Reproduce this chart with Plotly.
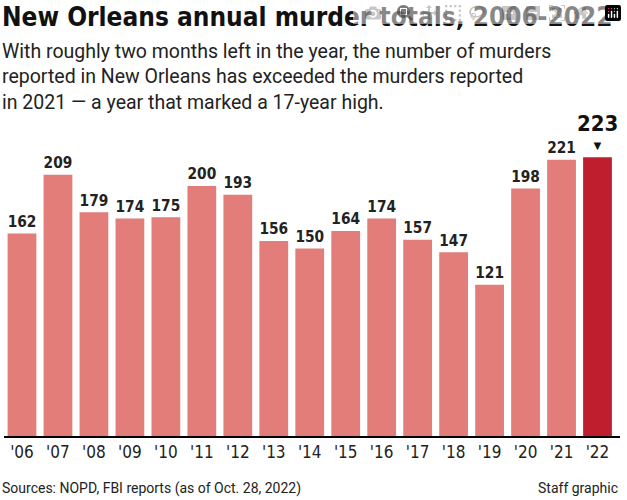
import plotly.graph_objects as go

# data
years = ["'06", "'07", "'08", "'09", "'10", "'11", "'12", "'13", "'14", "'15",
         "'16", "'17", "'18", "'19", "'20", "'21", "'22"]
murders = [162, 209, 179, 174, 175, 200, 193, 156, 150, 164, 174, 157, 147, 121, 198, 221, 223]

light = "#e27d79"
dark = "#bf1e2e"
colors = [light] * (len(years) - 1) + [dark]
labels = ["<b>%d</b>" % v for v in murders[:-1]] + [""]

fig = go.Figure(go.Bar(
    x=years, y=murders, marker_color=colors, marker_line_width=0,
    text=labels, textposition="outside", cliponaxis=False,
    textfont=dict(family="DejaVu Sans Condensed", size=17, color="#222"),
))

# last year: bigger label with a marker triangle
fig.add_annotation(x=years[-1], y=murders[-1], text="▼", showarrow=False,
                   yshift=12, font=dict(size=13, color="#111"))
fig.add_annotation(x=years[-1], y=murders[-1], text="<b>223</b>", showarrow=False,
                   yshift=34, font=dict(family="DejaVu Sans Condensed", size=22, color="#111"))

fig.update_layout(
    width=627, height=500, plot_bgcolor="white", paper_bgcolor="white",
    margin=dict(l=4, r=7, t=111, b=64), bargap=0.2, showlegend=False,
    font=dict(family="Roboto", color="#222"),
)
fig.update_yaxes(range=[0, 260], visible=False)
fig.update_xaxes(showline=True, linecolor="black", linewidth=2, ticks="",
                 tickfont=dict(family="DejaVu Sans Condensed", size=17, color="#222"))

fig.add_annotation(xref="paper", yref="paper", x=-0.006, xanchor="left", y=1, yanchor="bottom",
                   yshift=77, text="<b>New Orleans annual murder totals, 2006-2022</b>",
                   showarrow=False, font=dict(family="DejaVu Sans Condensed", size=26, color="#111"))
fig.add_annotation(xref="paper", yref="paper", x=-0.006, xanchor="left", y=1, yanchor="bottom",
                   yshift=-5, align="left", showarrow=False,
                   text="With roughly two months left in the year, the number of murders<br>"
                        "reported in New Orleans has exceeded the murders reported<br>"
                        "in 2021 — a year that marked a 17-year high.",
                   font=dict(family="Roboto", size=19.5, color="#222"))
fig.add_annotation(xref="paper", yref="paper", x=-0.006, xanchor="left", y=0, yanchor="top",
                   yshift=-42, text="Sources: NOPD, FBI reports (as of Oct. 28, 2022)",
                   showarrow=False, font=dict(family="Roboto", size=14, color="#222"))
fig.add_annotation(xref="paper", yref="paper", x=1.0, xanchor="right", y=0, yanchor="top",
                   yshift=-42, text="Staff graphic",
                   showarrow=False, font=dict(family="Roboto", size=14, color="#222"))

fig.write_html("out.html", post_script="document.body.style.margin='0';")
